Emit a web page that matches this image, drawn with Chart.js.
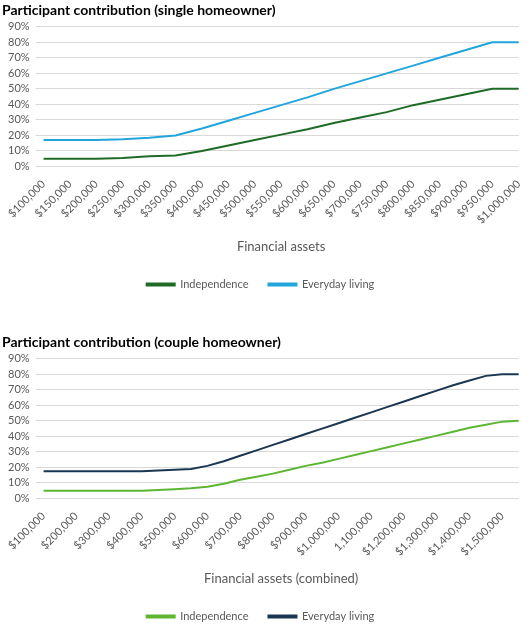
<!DOCTYPE html>
<html><head><meta charset="utf-8">
<script src="https://cdn.jsdelivr.net/npm/chart.js@4"></script>
<style>
body{margin:0;background:#fff;font-family:Lato,sans-serif}
.w{position:absolute;left:0;width:531px}
</style></head><body>
<div class="w" style="top:0;height:304px"><canvas id="c1"></canvas></div>
<div class="w" style="top:332px;height:304px"><canvas id="c2"></canvas></div>
<script>
const singleLabels=["$100,000","$150,000","$200,000","$250,000","$300,000","$350,000","$400,000","$450,000","$500,000","$550,000","$600,000","$650,000","$700,000","$750,000","$800,000","$850,000","$900,000","$950,000","$1,000,000"];
const singleIndependence=[5,5,5,5.5,6.5,7,10,13.5,17,20.5,24,28,31.5,35,39.5,43,46.5,50,50];
const singleEveryday=[17,17,17,17.5,18.5,20,24.5,29.5,34.5,39.5,44.5,50,55,60,65,70,75,80,80];
const coupleLabels=["$100,000","$150,000","$200,000","$250,000","$300,000","$350,000","$400,000","$450,000","$500,000","$550,000","$600,000","$650,000","$700,000","$750,000","$800,000","$850,000","$900,000","$950,000","$1,000,000","$1,050,000","1,100,000","$1,150,000","$1,200,000","$1,250,000","$1,300,000","$1,350,000","$1,400,000","$1,450,000","$1,500,000","$1,550,000"];
const coupleIndependence=[5,5,5,5,5,5,5,5.5,6,6.5,7.5,9.5,12,14,16,18.5,21,23,25.5,28,30.5,33,35.5,38,40.5,43,45.5,47.5,49.5,50];
const coupleEveryday=[17.5,17.5,17.5,17.5,17.5,17.5,17.5,18,18.5,19,21,24,27.5,31,34.5,38,41.5,45,48.5,52,55.5,59,62.5,66,69.5,73,76,79,80,80];
const yTicks=[0,10,20,30,40,50,60,70,80,90];

function make(id,title,xTitle,labels,indep,every,cI,cE,skip,offset){
  new Chart(document.getElementById(id),{type:'line',
    data:{labels,datasets:[
      {label:'Independence',data:indep,borderColor:cI,backgroundColor:cI,borderWidth:2,pointRadius:0,tension:0},
      {label:'Everyday living',data:every,borderColor:cE,backgroundColor:cE,borderWidth:2,pointRadius:0,tension:0}]},
    options:{responsive:true,maintainAspectRatio:false,animation:false,
      layout:{padding:{left:2,right:12,top:0,bottom:4}},
      plugins:{
        title:{display:true,text:title,align:'start',color:'#000',font:{family:'Lato',size:14,weight:'bold'},padding:{top:2,bottom:8}},
        legend:{position:'bottom',labels:{color:'#595959',font:{family:'Lato',size:11},boxWidth:28,boxHeight:2,padding:20}},
        tooltip:{enabled:false}},
      scales:{
        x:{offset:offset,grid:{display:false},border:{display:false},
          title:{display:true,text:xTitle,color:'#595959',font:{family:'Lato',size:13},padding:{top:10,bottom:4}},
          ticks:{color:'#595959',font:{family:'Lato',size:11},maxRotation:45,minRotation:45,autoSkip:false,
            callback:function(v,i){return (i%skip===0)?this.getLabelForValue(v):'';}}},
        y:{min:0,max:90,afterBuildTicks:a=>{a.ticks=yTicks.map(v=>({value:v}));},
          grid:{color:'#d9d9d9'},border:{display:false},
          ticks:{color:'#595959',font:{family:'Lato',size:11},padding:6,autoSkip:false,callback:v=>v+'%'}}}}});
}
make('c1','Participant contribution (single homeowner)','Financial assets',singleLabels,singleIndependence,singleEveryday,'#1f6b26','#22a5dc',1,false);
make('c2','Participant contribution (couple homeowner)','Financial assets (combined)',coupleLabels,coupleIndependence,coupleEveryday,'#5cb632','#1b3651',2,false);
</script></body></html>
